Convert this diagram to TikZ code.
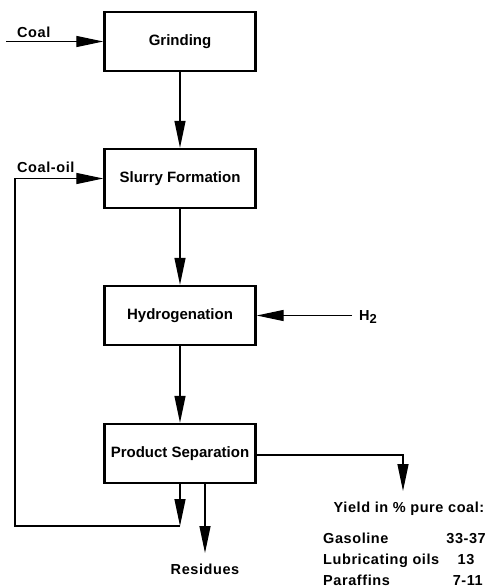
\documentclass[tikz,border=0pt]{standalone}
\usepackage{fontspec}
\setmainfont{Liberation Sans}
\newfontfamily\lblfont[LetterSpace=4]{Liberation Sans}
\usepackage{tikz}
\usetikzlibrary{calc}
\usetikzlibrary{arrows.meta}
\usetikzlibrary{positioning}
\tikzset{>={Triangle[length=27pt, width=11pt]}}
\tikzstyle{box} = [draw, line width = 2.4pt, minimum width = 151pt, minimum height = 59pt, inner sep = 0, font = \fontsize{15}{17}\selectfont\bfseries]
\tikzstyle{lbl} = [draw=none, inner sep = 0, anchor = base west, font = \fontsize{14.5}{16}\lblfont\bfseries]
\tikzstyle{flow} = [->, line width = 1.3pt]

\begin{document}
\begin{tikzpicture}[x=1pt, y=-1pt]
\useasboundingbox (0, 0) rectangle (487, 587);
% process steps
\node [box] (G) at (180, 41.5) {Grinding};
\node [box] (S) at (180, 178.5) {Slurry Formation};
\node [box] (H) at (180, 315.5) {Hydrogenation};
\node [box] (P) at (180, 453.5) {Product Separation};
% labels
\node [lbl] (C) at (17, 37) {Coal};
\node [lbl] (O) at (17, 172) {Coal-oil};
\node [lbl] (Hy) at (359, 320) {H\raisebox{-3.5pt}{\fontsize{13}{15}\selectfont 2}};
\node [lbl, anchor = base] (R) at (205, 574) {Residues};
\node [lbl, anchor = base] (Y) at (409, 512) {Yield in \% pure coal:};
\node [lbl] (Y1) at (323, 543) {Gasoline};
\node [lbl] (Y2) at (323, 564) {Lubricating oils};
\node [lbl] (Y3) at (323, 585) {Paraffins};
\node [lbl, anchor = base east] (V1) at (486, 543) {33-37};
\node [lbl, anchor = base] (V2) at (466, 564) {13};
\node [lbl, anchor = base east] (V3) at (483, 585) {7-11};
% free ends
\coordinate (c0) at (6, 41.5);
\coordinate (h0) at (352, 315.5);
\coordinate (l1) at (180, 526);
\coordinate (l2) at (15, 526);
\coordinate (l3) at (15, 178.5);
\coordinate (r1) at (205, 553);
\coordinate (y1) at (403, 455);
\coordinate (y2) at (403, 491);
% flows
\draw [flow] (c0) to (G);
\draw [flow] (G) to (S);
\draw [flow] (S) to (H);
\draw [flow] (H) to (P);
\draw [flow] (h0) to (H);
\draw [flow] (P.south -| l1) to (l1);
\draw [flow] (l1) -- (l2) -- (l3) -- (S);
\draw [flow] (P.south -| r1) to (r1);
\draw [flow] (P.east |- y1) -- (y1) -- (y2);
\end{tikzpicture}
\end{document}
